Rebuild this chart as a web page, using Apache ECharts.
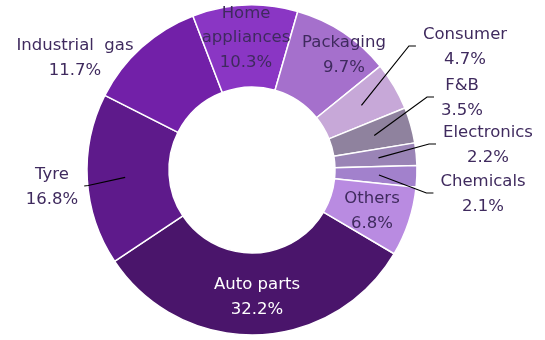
<!DOCTYPE html>
<html>
<head>
<meta charset="utf-8">
<script src="https://cdn.jsdelivr.net/npm/echarts@6/dist/echarts.min.js"></script>
<style>
  html, body { margin: 0; padding: 0; background: #ffffff; }
  #chart { width: 545px; height: 340px; }
</style>
</head>
<body>
<div id="chart"></div>
<script>
// Segments in clockwise order, starting with the largest one
const categories = ['Auto parts', 'Tyre', 'Industrial gas', 'Home appliances', 'Packaging',
                    'Consumer', 'F&B', 'Electronics', 'Chemicals', 'Others'];
const shares = [32.2, 16.8, 11.7, 10.3, 9.7, 4.7, 3.5, 2.2, 2.1, 6.8];
const labelTexts = ['Auto parts', 'Tyre', 'Industrial  gas', 'Home\nappliances', 'Packaging',
                    'Consumer', 'F&B', 'Electronics', 'Chemicals', 'Others'];

const sliceColors = ['#4a156b', '#5e1a8b', '#7220a8', '#8a36c4', '#a570cc',
                     '#c7a8d8', '#8f829e', '#9a84b6', '#a281cc', '#b98be1'];

// Ring geometry and label placement
const CX = 252, CY = 170, R_OUT = 165, R_IN = 83;
const START_CLOCK_DEG = 120.5;           // first segment begins here, clockwise from 12 o'clock
const labelSpots = {
  'Auto parts':      { x: 257, y: 297, side: 'inside' },
  'Tyre':            { x: 52,  y: 187, side: 'left' },
  'Industrial gas':  { x: 75,  y: 58,  side: 'free' },
  'Home appliances': { x: 246, y: 38,  side: 'inside' },
  'Packaging':       { x: 344, y: 55,  side: 'inside' },
  'Consumer':        { x: 465, y: 47,  side: 'right' },
  'F&B':             { x: 462, y: 98,  side: 'right' },
  'Electronics':     { x: 488, y: 145, side: 'right' },
  'Chemicals':       { x: 483, y: 194, side: 'right' },
  'Others':          { x: 372, y: 211, side: 'inside' }
};

// Mid-angle of each segment (clockwise from 12 o'clock), from the shares
const total = shares.reduce((a, b) => a + b, 0);
const midAngles = [];
let cum = 0;
shares.forEach(v => {
  midAngles.push(START_CLOCK_DEG + (cum + v / 2) / total * 360);
  cum += v;
});

const textColor = '#3f2a5e';

const data = categories.map((name, i) => ({
  name: name,
  value: shares[i],
  itemStyle: { color: sliceColors[i] },
  label: { color: name === 'Auto parts' ? '#ffffff' : textColor }
}));

// Label sizes, collected while the labels are laid out
const labelSizes = {};

const chart = echarts.init(document.getElementById('chart'), null, { renderer: 'canvas' });

chart.setOption({
  backgroundColor: '#ffffff',
  animation: false,
  series: [{
    type: 'pie',
    center: [CX, CY],
    radius: [R_IN, R_OUT],
    startAngle: 90 - START_CLOCK_DEG,
    clockwise: true,
    avoidLabelOverlap: false,
    itemStyle: { borderColor: '#ffffff', borderWidth: 1.5 },
    label: {
      show: true,
      position: 'inside',
      formatter: p => labelTexts[p.dataIndex] + '\n' + p.value.toFixed(1) + '%',
      fontFamily: 'DejaVu Sans',
      fontSize: 16.5,
      lineHeight: 24.5,
      align: 'center'
    },
    labelLine: { show: false },
    emphasis: { disabled: true },
    labelLayout: function (params) {
      const spot = labelSpots[categories[params.dataIndex]];
      labelSizes[params.dataIndex] = { w: params.labelRect.width, h: params.labelRect.height };
      return { x: spot.x, y: spot.y, align: 'center', verticalAlign: 'middle' };
    },
    data: data
  }]
});

// Leader lines: from the middle of the ring, along each segment's mid-angle, to its label
const leaderLines = [];
categories.forEach((name, i) => {
  const spot = labelSpots[name];
  if (spot.side !== 'left' && spot.side !== 'right') return;
  const size = labelSizes[i] || { w: 60, h: 48 };
  const a = midAngles[i] * Math.PI / 180;
  const rs = R_OUT * 0.77;
  const start = [CX + rs * Math.sin(a), CY - rs * Math.cos(a)];
  let bend, end;
  if (spot.side === 'right') {
    const left = spot.x - size.w / 2;
    end = [left - 7, spot.y - 1];
    bend = [left - 14, spot.y - 1];
  } else {
    const right = spot.x + size.w / 2;
    end = [right + 6, spot.y - 1];
    bend = [right + 10, spot.y - 1.5];
  }
  leaderLines.push({
    type: 'polyline',
    silent: true,
    z: 100,
    shape: { points: [start, bend, end] },
    style: { stroke: '#000000', lineWidth: 1.2, fill: null }
  });
});

chart.setOption({ graphic: { elements: leaderLines } });
</script>
</body>
</html>
